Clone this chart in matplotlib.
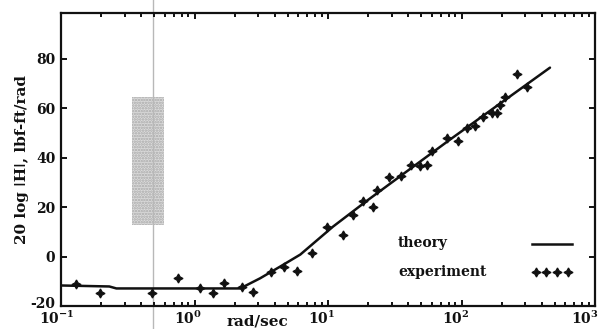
import matplotlib
matplotlib.use("Agg")
import matplotlib.pyplot as plt
import matplotlib.transforms as mtransforms
from matplotlib.ticker import LogLocator, NullFormatter, FixedLocator
from matplotlib.patches import Rectangle
from matplotlib.lines import Line2D

# Theory curve (rad/sec, dB)
theory_w = [0.1, 0.23, 0.26, 2.2, 3.1, 4.4, 6.2, 10.9, 19.6, 82, 460]
theory_db = [-11.7, -12.1, -12.9, -12.9, -8.8, -4.0, 0.8, 12.1, 22.6, 47.3, 76.4]

# Measured points (rad/sec, dB)
exp_w = [0.129, 0.196, 0.481, 0.752, 1.10, 1.38, 1.66, 2.27, 2.74, 3.74,
         4.68, 5.86, 7.59, 9.84, 12.9, 15.4, 18.3, 21.7, 23.3, 28.6,
         35.2, 41.9, 48.9, 55.2, 60.1, 77.8, 94.2, 110, 126, 145,
         169, 185, 194, 212, 261, 310]
exp_db = [-11.0, -14.7, -14.7, -8.6, -12.9, -14.9, -10.5, -12.5, -14.5, -6.1,
          -4.4, -5.7, 1.6, 12.1, 8.9, 17.0, 22.6, 20.2, 27.1, 32.3,
          32.7, 37.2, 36.8, 37.2, 42.8, 48.1, 46.9, 52.1, 52.9, 56.6,
          58.2, 58.2, 61.4, 64.6, 73.9, 68.7]

x_ticks = [0.1, 1, 10, 100, 1000]
x_tick_labels = ["10$^{-1}$", "10$^{0}$", "10$^{1}$", "10$^{2}$", "10$^{3}$"]
y_ticks = [-20, 0, 20, 40, 60, 80]

plt.rcParams["font.family"] = "DejaVu Serif"
plt.rcParams["font.weight"] = "bold"
plt.rcParams["mathtext.fontset"] = "dejavuserif"
plt.rcParams["mathtext.default"] = "bf"

fig = plt.figure(figsize=(6.01, 3.29), dpi=100)
W, H = 601, 329
ax = fig.add_axes([61 / W, (H - 306) / H, (595 - 61) / W, (306 - 13) / H])
ax.patch.set_alpha(0)

ax.set_xscale("log")
ax.set_xlim(0.1, 1000)
ax.set_ylim(-20, 98.5)

ink = "#111111"
mk = (4, 1, 0)
ax.plot(theory_w, theory_db, color=ink, lw=1.8, solid_capstyle="round")
ax.plot(exp_w, exp_db, linestyle="none", marker=mk, ms=6.5,
        color=ink, mec=ink, mew=0.9)

for s in ax.spines.values():
    s.set_linewidth(1.6)
    s.set_color(ink)

ax.xaxis.set_major_locator(FixedLocator(x_ticks))
ax.set_xticklabels(x_tick_labels)
ax.xaxis.set_minor_locator(LogLocator(base=10, subs=range(2, 10)))
ax.xaxis.set_minor_formatter(NullFormatter())
ax.set_yticks(y_ticks)
ax.set_yticklabels([str(v) for v in y_ticks])

ax.tick_params(axis="both", which="both", direction="in", top=True, right=True,
               color=ink, labelcolor=ink, labelsize=10)
ax.tick_params(axis="both", which="major", length=4, width=1.4)
ax.tick_params(axis="x", which="minor", length=3, width=1.4)
ax.tick_params(axis="x", which="major", pad=3)
ax.tick_params(axis="y", which="major", pad=4)

# tick labels sit a little left of their ticks; the last one stays inside
offsets_px = [-4, -7, -6, -6, -10]
for lab, dx in zip(ax.get_xticklabels(), offsets_px):
    shift = mtransforms.ScaledTranslation(dx / 100, 0, fig.dpi_scale_trans)
    lab.set_transform(lab.get_transform() + shift)

# lift the bottom y label clear of the corner x label
bottom_lab = ax.get_yticklabels()[0]
bottom_lab.set_transform(bottom_lab.get_transform() +
                         mtransforms.ScaledTranslation(0, 4 / 100,
                                                       fig.dpi_scale_trans))

ax.set_ylabel("20 log ǀHǀ, lbf-ft/rad", fontsize=11, fontweight="bold",
              color=ink, labelpad=1)
ax.text(0.367, -0.03, "rad/sec", transform=ax.transAxes, ha="center",
        va="top", fontsize=11, fontweight="bold", color=ink)

# key: text on the left, sample on the right
ax.text(0.631, 0.215, "theory", transform=ax.transAxes, ha="left",
        va="center", fontsize=10, fontweight="bold", color=ink)
ax.text(0.631, 0.116, "experiment", transform=ax.transAxes, ha="left",
        va="center", fontsize=10, fontweight="bold", color=ink)
ax.plot([0.882, 0.957], [0.212, 0.212], transform=ax.transAxes,
        color=ink, lw=1.8)
ax.plot([0.889, 0.909, 0.929, 0.949], [0.116] * 4, transform=ax.transAxes,
        linestyle="none", marker=mk, ms=6.5, color=ink, mew=0.9)

# faint vertical line and grainy patch from the printed page
plt.rcParams["hatch.linewidth"] = 1.2
fig.add_artist(Line2D([153 / W, 153 / W], [0, 1], transform=fig.transFigure,
                      color="#b8b8b8", lw=1.0, zorder=-1))
fig.add_artist(Rectangle((132 / W, (H - 225) / H), 32 / W, 128 / H,
                         transform=fig.transFigure, facecolor="#dcdcdc",
                         edgecolor="#a8a8a8", hatch="......", lw=0,
                         zorder=-2))

fig.savefig("out.png", dpi=100, facecolor="white")
